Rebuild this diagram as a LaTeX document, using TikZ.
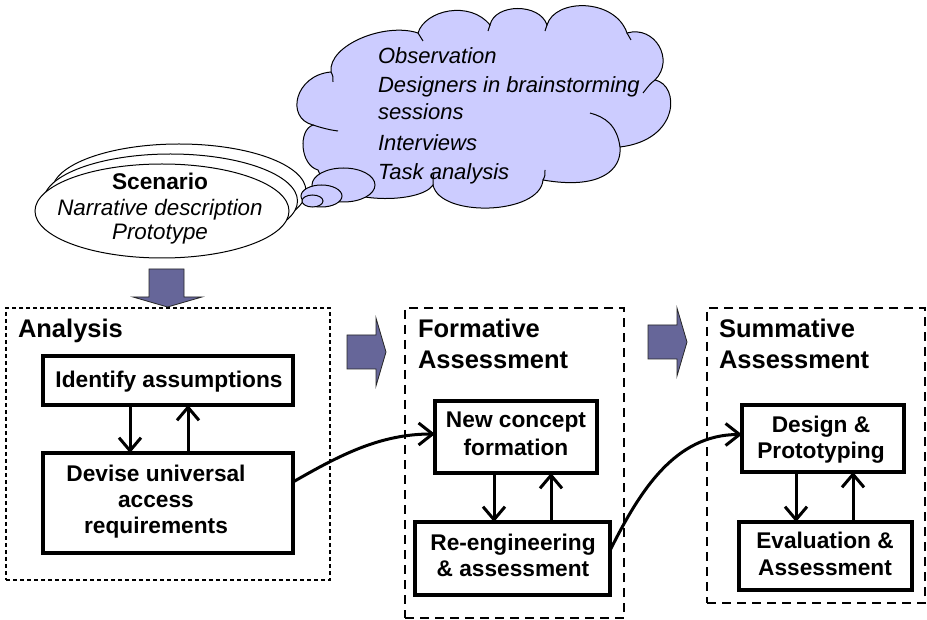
\documentclass[tikz,border=0pt]{standalone}
\usepackage{fontspec}
\setmainfont{Liberation Sans}
\usetikzlibrary{arrows.meta,shapes.geometric,calc}
\definecolor{puff}{HTML}{CCCCFF}
\definecolor{blockfill}{HTML}{666699}
\begin{document}
\begin{tikzpicture}[x=1pt,y=-1pt,
  every node/.style={inner sep=0pt,outer sep=0pt},
  boxnode/.style={draw,line width=3.3pt,rectangle},
  thinframe/.style={draw,line width=1.1pt,dash pattern=on 4pt off 3pt,rectangle},
  thickframe/.style={draw,line width=2.5pt,dash pattern=on 9pt off 6pt,rectangle},
  boxtext/.style={font=\bfseries\fontsize{22.7}{26}\selectfont,anchor=base},
  headtext/.style={font=\bfseries\fontsize{25.5}{30}\selectfont,anchor=base west},
  ittext/.style={font=\itshape\fontsize{22.4}{26}\selectfont,anchor=base},
  cloudtext/.style={font=\itshape\fontsize{22}{26}\selectfont,anchor=base west},
  arr/.style={line width=3pt,-{Straight Barb[length=13pt,width=22pt]}},
  conn/.style={line width=3pt,-{Straight Barb[length=14pt,width=22pt]}},
  scenell/.style={ellipse,draw,line width=1pt,fill=white,minimum width=254pt,minimum height=94pt},
  bubble/.style={ellipse,draw,line width=1pt,fill=puff},
  block/.style={fill=blockfill,draw=black!85,line width=0.8pt,line join=miter},
  cloudline/.style={draw,line width=1pt}]
\useasboundingbox[fill=white] (0,0) rectangle (927,620);

% thought cloud
\path[cloudline,fill=puff] (313,125) .. controls (285,118) and (295,75) .. (331,72)
  .. controls (328,45) and (385,22) .. (418,33)
  .. controls (425,10) and (470,0) .. (490,25)
  .. controls (495,3) and (540,3) .. (547,25)
  .. controls (555,-2) and (615,-2) .. (627,33)
  .. controls (655,25) and (675,60) .. (655,80)
  .. controls (680,85) and (680,140) .. (620,147)
  .. controls (622,170) and (600,190) .. (543,180)
  .. controls (540,215) and (440,218) .. (433,185)
  .. controls (420,205) and (330,205) .. (318,170)
  .. controls (300,165) and (298,130) .. (313,125) -- cycle;
% inner creases of the cloud puffs
\draw[line width=1pt] (313,125) .. controls (322,128) and (330,130) .. (338,131);
\draw[line width=1pt] (331,72) .. controls (333,76) .. (333,82);
\draw[line width=1pt] (418,33) .. controls (421,37) .. (423,41);
\draw[line width=1pt] (490,25) .. controls (489,28) .. (488,31);
\draw[line width=1pt] (547,25) .. controls (546,28) .. (545,31);
\draw[line width=1pt] (627,33) .. controls (629,36) .. (631,40);
\draw[line width=1pt] (655,80) .. controls (650,84) .. (643,93);
\draw[line width=1pt] (620,147) .. controls (617,125) and (605,117) .. (590,113);
\draw[line width=1pt] (543,180) .. controls (545,176) .. (545,170);
\draw[line width=1pt] (433,185) .. controls (433,180) .. (434,173);

\node[cloudtext] (c1) at (378,64) {Observation};
\node[cloudtext] (c2) at (378,93) {Designers in brainstorming};
\node[cloudtext] (c3) at (378,120) {sessions};
\node[cloudtext] (c4) at (378,151) {Interviews};
\node[cloudtext] (c5) at (378,180) {Task analysis};

% scenario stack
\node[scenell] (scenA) at (179,191) {};
\node[scenell] (scenB) at (170.5,201) {};
\node[scenell] (scen) at (162,211) {};
\node[boxtext] (s1) at (160,190) {Scenario};
\node[ittext] (s2) at (160,216) {Narrative description};
\node[ittext] (s3) at (160,240) {Prototype};

% thought bubbles
\node[bubble,minimum width=63pt,minimum height=34pt] (b1) at (343.5,185) {};
\node[bubble,minimum width=41pt,minimum height=22pt] (b2) at (321.5,196) {};
\node[bubble,minimum width=21pt,minimum height=12pt] (b3) at (312.5,201) {};

% block arrows
\path[block] (149,269) -- (184,269) -- (184,297) -- (202,297) -- (167.5,307) -- (133,297) -- (149,297) -- cycle;
\path[block] (347,335) -- (376,335) -- (376,318) -- (386,352) -- (376,386) -- (376,369) -- (347,369) -- cycle;
\path[block] (648,325) -- (677,325) -- (677,308) -- (687,342) -- (677,376) -- (677,359) -- (648,359) -- cycle;

% phase frames
\node[thinframe,minimum width=324pt,minimum height=272pt] (anaf) at (168,444) {};
\node[thickframe,minimum width=219pt,minimum height=310pt] (formf) at (514.5,463) {};
\node[thickframe,minimum width=218pt,minimum height=295pt] (summf) at (816,455.5) {};

\node[headtext] (h1) at (18,338) {Analysis};
\node[headtext] (h2) at (418,338) {Formative};
\node[headtext] (h3) at (418,369) {Assessment};
\node[headtext] (h4) at (719,338) {Summative};
\node[headtext] (h5) at (719,369) {Assessment};

% activity boxes
\node[boxnode,minimum width=250pt,minimum height=49pt] (ident) at (168,380.5) {};
\node[boxnode,minimum width=250pt,minimum height=100pt] (devise) at (168,503) {};
\node[boxnode,minimum width=162pt,minimum height=72pt] (newc) at (516,437) {};
\node[boxnode,minimum width=195pt,minimum height=73pt] (reeng) at (512.5,558.5) {};
\node[boxnode,minimum width=162pt,minimum height=67pt] (design) at (823,438.5) {};
\node[boxnode,minimum width=173pt,minimum height=68pt] (eval) at (825.5,556) {};

\node[boxtext] (t1) at (169,388) {Identify assumptions};
\node[boxtext] (t2a) at (156,481) {Devise universal};
\node[boxtext] (t2b) at (156,507) {access};
\node[boxtext] (t2c) at (156,533) {requirements};
\node[boxtext] (t3a) at (516,428) {New concept};
\node[boxtext] (t3b) at (516,455) {formation};
\node[boxtext] (t4a) at (513,550) {Re-engineering};
\node[boxtext] (t4b) at (513,576) {\& assessment};
\node[boxtext] (t5a) at (821,432) {Design \&};
\node[boxtext] (t5b) at (821,458) {Prototyping};
\node[boxtext] (t6a) at (825,548) {Evaluation \&};
\node[boxtext] (t6b) at (825,575) {Assessment};

% feedback arrows inside each phase
\draw[arr] ([xshift=-38pt]ident.south) -- ([xshift=-38pt]devise.north);
\draw[arr] ([xshift=20pt]devise.north) -- ([xshift=20pt]ident.south);
\draw[arr] ([xshift=-22pt]newc.south) -- ([xshift=-22pt]newc.south |- reeng.north);
\draw[arr] ([xshift=35pt]newc.south |- reeng.north) -- ([xshift=35pt]newc.south);
\draw[arr] ([xshift=-27pt]design.south) -- ([xshift=-27pt]design.south |- eval.north);
\draw[arr] ([xshift=30pt]design.south |- eval.north) -- ([xshift=30pt]design.south);

% hand-over connectors between phases
\draw[conn] ([yshift=21pt]devise.east) .. controls +(47,-27) and +(-55,0) .. ([yshift=3pt]newc.west);
\draw[conn] ([yshift=8pt]reeng.east) .. controls +(30,-60) and +(-67,0) .. ([yshift=4pt]design.west);
\end{tikzpicture}
\end{document}
